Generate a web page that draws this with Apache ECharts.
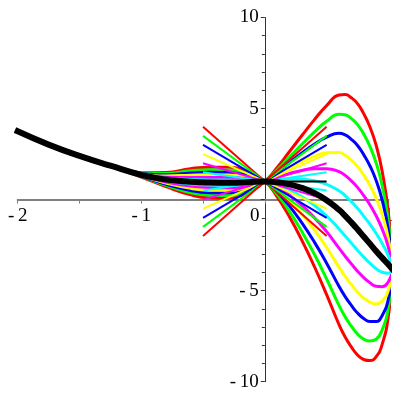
<!DOCTYPE html>
<html>
<head>
<meta charset="utf-8">
<script src="https://cdn.jsdelivr.net/npm/echarts@6/dist/echarts.min.js"></script>
<style>html,body{margin:0;padding:0;background:#fff}#c{width:400px;height:400px}</style>
</head>
<body>
<div id="c"></div>
<script>
// x sample positions shared by all curves
const xs = [-2, -1.75, -1.5, -1.25, -1, -0.8, -0.6, -0.45, -0.3, -0.15,
            0, 0.1, 0.2, 0.3, 0.4, 0.5, 0.6, 0.65, 0.7, 0.75, 0.8, 0.85, 0.9, 0.95, 1.0, 1.035];

const blackCurve = [3.75, 3.02, 2.40, 1.86, 1.36, 1.10, 0.98, 0.94, 0.93, 0.95,
  1, 0.96, 0.84, 0.64, 0.36, -0.03, -0.56, -0.89, -1.25, -1.63, -2.03, -2.42, -2.82, -3.2, -3.57, -3.85];

const redUp = [3.75, 3.02, 2.40, 1.84, 1.24, 0.71, 0.26, 0.10, 0.09, 0.35,
  1, 1.77, 2.64, 3.52, 4.38, 5.16, 5.74, 5.77, 5.59, 5.27, 4.72, 4.00, 3.00, 1.54, -0.75, -3.85];
const redDown = [3.75, 3.02, 2.40, 1.88, 1.48, 1.49, 1.70, 1.78, 1.77, 1.55,
  1, 0.15, -0.96, -2.24, -3.66, -5.22, -6.86, -7.55, -8.09, -8.53, -8.78, -8.84, -8.64, -7.94, -6.39, -3.85];
const greenUp = [3.75, 3.02, 2.40, 1.85, 1.26, 0.78, 0.38, 0.24, 0.23, 0.45,
  1, 1.64, 2.34, 3.04, 3.71, 4.30, 4.69, 4.66, 4.45, 4.12, 3.60, 2.93, 2.03, 0.75, -1.22, -3.85];
const greenDown = [3.75, 3.02, 2.40, 1.88, 1.46, 1.43, 1.58, 1.64, 1.63, 1.45,
  1, 0.29, -0.66, -1.76, -2.99, -4.36, -5.81, -6.44, -6.95, -7.38, -7.66, -7.77, -7.67, -7.15, -5.92, -3.85];
const blueUp = [3.75, 3.02, 2.40, 1.85, 1.28, 0.84, 0.50, 0.38, 0.37, 0.55,
  1, 1.50, 2.04, 2.56, 3.04, 3.43, 3.64, 3.55, 3.31, 2.97, 2.47, 1.86, 1.06, -0.04, -1.69, -3.85];
const blueDown = [3.75, 3.02, 2.40, 1.87, 1.44, 1.36, 1.46, 1.50, 1.49, 1.35,
  1, 0.42, -0.36, -1.28, -2.32, -3.49, -4.76, -5.33, -5.81, -6.23, -6.53, -6.70, -6.70, -6.36, -5.45, -3.85];
const yellowUp = [3.75, 3.02, 2.40, 1.85, 1.30, 0.91, 0.62, 0.52, 0.51, 0.65,
  1, 1.37, 1.74, 2.08, 2.37, 2.57, 2.59, 2.44, 2.17, 1.82, 1.35, 0.79, 0.09, -0.83, -2.16, -3.85];
const yellowDown = [3.75, 3.02, 2.40, 1.87, 1.42, 1.30, 1.34, 1.36, 1.35, 1.25,
  1, 0.56, -0.06, -0.80, -1.65, -2.63, -3.71, -4.22, -4.67, -5.08, -5.41, -5.63, -5.73, -5.57, -4.98, -3.85];
const magentaUp = [3.75, 3.02, 2.40, 1.85, 1.32, 0.97, 0.74, 0.66, 0.65, 0.75,
  1, 1.23, 1.44, 1.60, 1.70, 1.70, 1.54, 1.33, 1.03, 0.67, 0.22, -0.28, -0.88, -1.62, -2.63, -3.85];
const magentaDown = [3.75, 3.02, 2.40, 1.87, 1.40, 1.23, 1.22, 1.22, 1.21, 1.15,
  1, 0.69, 0.24, -0.32, -0.98, -1.76, -2.66, -3.11, -3.53, -3.93, -4.28, -4.56, -4.76, -4.78, -4.51, -3.85];
const cyanUp = [3.75, 3.02, 2.40, 1.86, 1.34, 1.04, 0.86, 0.80, 0.79, 0.85,
  1, 1.10, 1.14, 1.12, 1.03, 0.84, 0.49, 0.22, -0.11, -0.48, -0.91, -1.35, -1.85, -2.41, -3.10, -3.85];
const cyanDown = [3.75, 3.02, 2.40, 1.86, 1.38, 1.17, 1.10, 1.08, 1.07, 1.05,
  1, 0.83, 0.54, 0.16, -0.31, -0.90, -1.61, -2.00, -2.39, -2.78, -3.16, -3.49, -3.79, -3.99, -4.04, -3.85];

// straight segments through (0,1)
const segX = [-0.5, 0.5];
const segLeftY  = [4, 3.5, 3, 2.5, 2, 1.5, 1, 0.5, 0, -0.5, -1, -1.5, -2];
const segRightY = [-2, -1.5, -1, -0.5, 0, 0.5, 1, 1.5, 2, 2.5, 3, 3.5, 4];
const segColors = ['#ff0000','#00ff00','#0000ff','#ffff00','#ff00ff','#00ffff','#000000',
                   '#00ffff','#ff00ff','#ffff00','#0000ff','#00ff00','#ff0000'];

const xTicks = [-2, -1, 0, 1];
const yTicks = [-10, -5, 5, 10];

const curves = [
  [redUp, '#ff0000'], [redDown, '#ff0000'],
  [greenUp, '#00ff00'], [greenDown, '#00ff00'],
  [blueUp, '#0000ff'], [blueDown, '#0000ff'],
  [yellowUp, '#ffff00'], [yellowDown, '#ffff00'],
  [magentaUp, '#ff00ff'], [magentaDown, '#ff00ff'],
  [cyanUp, '#00ffff'], [cyanDown, '#00ffff']
];

const series = [];
curves.forEach(([ys, col]) => {
  series.push({
    type: 'line', data: xs.map((x, i) => [x, ys[i]]), smooth: 0.5,
    showSymbol: false, symbol: 'none', clip: false, silent: true,
    lineStyle: { color: col, width: 3, cap: 'round' }, z: 2
  });
});
segLeftY.forEach((ly, i) => {
  series.push({
    type: 'line', data: [[segX[0], ly], [segX[1], segRightY[i]]],
    showSymbol: false, symbol: 'none', clip: false, silent: true,
    lineStyle: { color: segColors[i], width: 2 }, z: 3
  });
});
series.push({
  type: 'line', data: xs.map((x, i) => [x, blackCurve[i]]), smooth: 0.5,
  showSymbol: false, symbol: 'none', clip: false, silent: true,
  lineStyle: { color: '#000000', width: 6, cap: 'square' }, z: 4
});

// grid geometry
const W = 400, H = 400;
const gL = 17.7, gR = 11.6, gT = 17.5, gB = 18.3;
const xMin = -2, xMax = 1, yMin = -10, yMax = 10;
const gW = W - gL - gR, gH = H - gT - gB;
const yAxisOffset = -((0 - xMin) / (xMax - xMin)) * gW;   // move y axis onto x=0
const xAxisOffset = -((0 - yMin) / (yMax - yMin)) * gH;   // move x axis onto y=0

const fmt = v => (v < 0 ? '-\u2009' + Math.abs(v) : String(v));
const font = 'Liberation Serif';
const fs = 19;
const chart = echarts.init(document.getElementById('c'), null, { renderer: 'canvas' });
chart.setOption({
  animation: false,
  backgroundColor: '#ffffff',
  textStyle: { fontFamily: font },
  grid: { left: gL, right: gR, top: gT, bottom: gB, containLabel: false, outerBoundsMode: 'none' },
  xAxis: {
    type: 'value', min: xMin, max: xMax, interval: 0.5, position: 'bottom', offset: xAxisOffset,
    axisLine: { onZero: false, lineStyle: { color: '#808080', width: 2 } },
    axisTick: { show: true, length: 4, lineStyle: { color: '#808080' } },
    splitLine: { show: false },
    axisLabel: {
      margin: 7, color: '#000', fontFamily: font, fontSize: fs,
      formatter: v => {
        if (!xTicks.includes(v)) return '';
        if (v === 0) return '{z|0}';
        return fmt(v);
      },
      rich: { z: { fontFamily: font, fontSize: fs, color: '#000', padding: [0, 20, 0, 0] } }
    }
  },
  yAxis: {
    type: 'value', min: yMin, max: yMax, interval: 5, position: 'left', offset: yAxisOffset,
    axisLine: { show: true, onZero: false, lineStyle: { color: '#333', width: 1 } },
    axisTick: { show: true, length: 4, lineStyle: { color: '#333' } },
    minorTick: { show: true, splitNumber: 5, length: 3, lineStyle: { color: '#333' } },
    splitLine: { show: false },
    axisLabel: {
      margin: 6, color: '#000', fontFamily: font, fontSize: fs,
      formatter: v => yTicks.includes(v) ? fmt(v) : ''
    }
  },
  series: series
});
</script>
</body>
</html>
